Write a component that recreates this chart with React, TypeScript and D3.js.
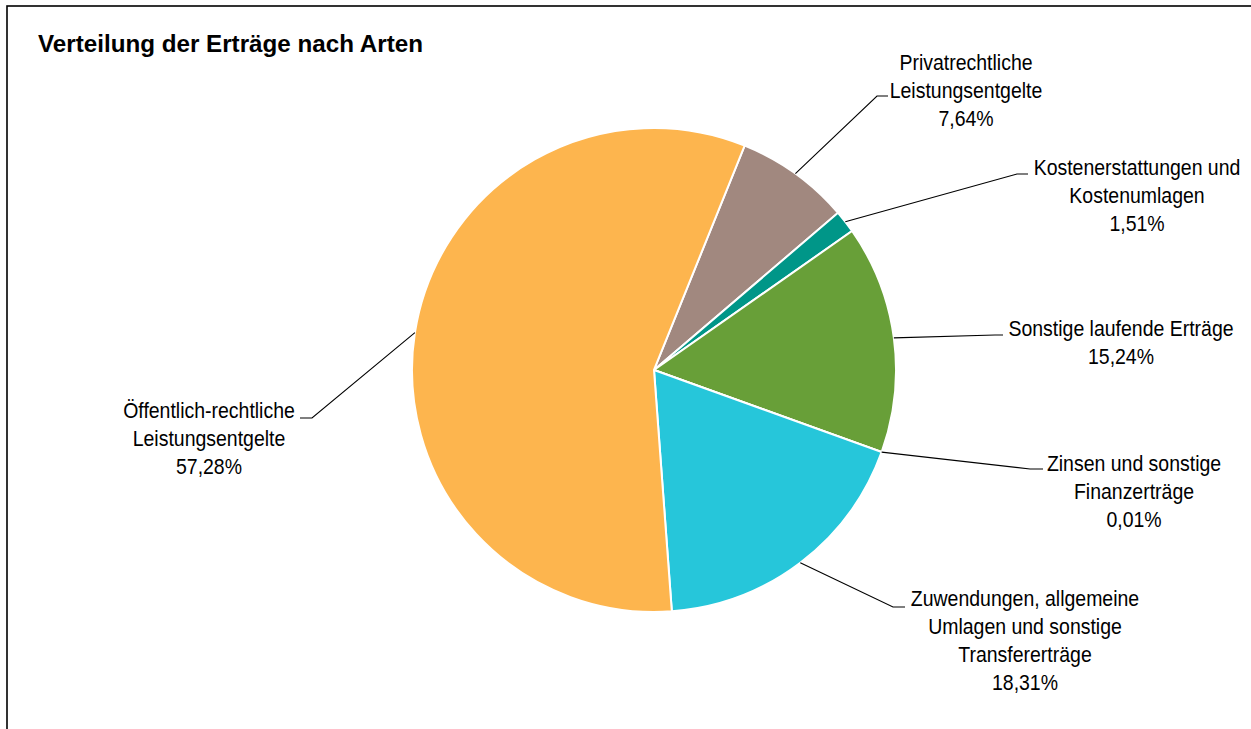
import { useMemo } from 'react';
import * as d3 from 'd3';

const categories = [
  ['Privatrechtliche', 'Leistungsentgelte'],
  ['Kostenerstattungen und', 'Kostenumlagen'],
  ['Sonstige laufende Erträge'],
  ['Zinsen und sonstige', 'Finanzerträge'],
  ['Zuwendungen, allgemeine', 'Umlagen und sonstige', 'Transfererträge'],
  ['Öffentlich-rechtliche', 'Leistungsentgelte'],
];
const shares = [7.64, 1.51, 15.24, 0.01, 18.31, 57.28];
const shareLabels = ['7,64%', '1,51%', '15,24%', '0,01%', '18,31%', '57,28%'];
const colors = ['#A1887F', '#009688', '#689F38', '#FF8A65', '#26C6DA', '#FDB54E'];

// label placement relative to the pie centre: elbow of the leader, end of the
// short horizontal tick, text centre x and centre y of the first line
const labelLayout = [
  { ex: 223, ey: -274, tx: 234, cx: 312, cy: -308 },
  { ex: 363, ey: -196, tx: 374, cx: 483, cy: -203 },
  { ex: 341, ey: -35, tx: 349, cx: 467, cy: -42 },
  { ex: 376, ey: 99, tx: 389, cx: 480, cy: 93 },
  { ex: 239, ey: 237, tx: 251, cx: 371, cy: 228 },
  { ex: -342, ey: 48, tx: -354, cx: -445, cy: 40 },
];

const W = 1251;
const H = 729;
const FONT = "'Liberation Sans', Arial, sans-serif";

export default function App() {
  const cx = 654;
  const cy = 370;
  const r = 242;
  const startDeg = 22;
  const lineH = 28;
  const narrow = 0.885; // the original uses a condensed face

  const arcs = useMemo(() => {
    const pie = d3
      .pie<number>()
      .sort(null)
      .value((d) => d)
      .startAngle((startDeg * Math.PI) / 180)
      .endAngle(((startDeg + 360) * Math.PI) / 180);
    return pie(shares);
  }, []);

  const arc = d3.arc<d3.PieArcDatum<number>>().innerRadius(0).outerRadius(r);

  return (
    <svg
      width={W}
      height={H}
      style={{ position: 'absolute', left: 0, top: 0, background: '#fff' }}
      fontFamily={FONT}
    >
      <rect x={7} y={6} width={W + 10} height={H + 10} fill="#fff" stroke="#000" strokeWidth={1.6} />
      <text x={38} y={52} fontSize={24} fontWeight="bold" fill="#000" textLength={385} lengthAdjust="spacingAndGlyphs">
        Verteilung der Erträge nach Arten
      </text>
      <g transform={`translate(${cx},${cy})`}>
        {arcs.map((a, i) => (
          <path key={i} d={arc(a) ?? ''} fill={colors[i]} stroke="#fff" strokeWidth={2} />
        ))}
        {arcs.map((a, i) => {
          const mid = (a.startAngle + a.endAngle) / 2;
          const px = r * Math.sin(mid);
          const py = -r * Math.cos(mid);
          const l = labelLayout[i];
          const lines = [...categories[i], shareLabels[i]];
          return (
            <g key={'l' + i}>
              <polyline
                points={`${px},${py} ${l.ex},${l.ey} ${l.tx},${l.ey}`}
                fill="none"
                stroke="#000"
                strokeWidth={1.1}
              />
              <text
                transform={`translate(${l.cx},0) scale(${narrow},1)`}
                textAnchor="middle"
                fontSize={22}
                fill="#000"
              >
                {lines.map((t, j) => (
                  <tspan key={j} x={0} y={l.cy + j * lineH} dy="0.35em">
                    {t}
                  </tspan>
                ))}
              </text>
            </g>
          );
        })}
      </g>
    </svg>
  );
}
